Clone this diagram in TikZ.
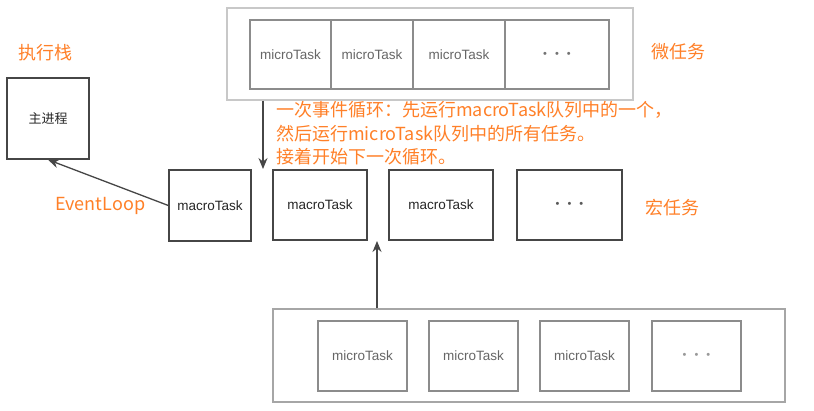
\documentclass[tikz,border=0pt]{standalone}
\usepackage{fontspec}
\setmainfont{Liberation Sans}
\newfontfamily\cjk{Noto Sans CJK SC}
\usetikzlibrary{arrows.meta}
\definecolor{orng}{RGB}{255,128,40}
\definecolor{lgray}{RGB}{200,200,200}
\definecolor{mgray}{RGB}{140,140,140}
\definecolor{dgray}{RGB}{70,70,70}
\tikzset{
  outerbox/.style={draw=lgray, line width=1.2pt, inner sep=0pt},
  microbox/.style={draw=mgray, line width=1.1pt, inner sep=0pt, minimum height=69pt, text=black!60, font=\fontsize{13.5}{15}\selectfont},
  macrobox/.style={draw=dgray, line width=1.4pt, inner sep=0pt, minimum height=70pt, text=black!85, font=\fontsize{13.5}{15}\selectfont},
  note/.style={text=orng, font=\cjk\fontsize{18}{22}\selectfont, inner sep=0pt, anchor=base west},
  arr/.style={draw=dgray, line width=1.3pt, -{Stealth[length=11pt,width=9pt]}},
  dots/.style={font=\fontsize{11}{14}\selectfont}
}
\newcommand{\threedots}{\textbullet\hspace{8pt}\textbullet\hspace{8pt}\textbullet}
\begin{document}
\begin{tikzpicture}[x=1pt,y=-1pt]
\useasboundingbox (0,0) rectangle (814,411);
\fill[white] (0,0) rectangle (814,411);
% top micro queue
\node[outerbox, minimum width=406pt, minimum height=92pt] (topq) at (430,54) {};
\node[microbox, minimum width=81pt] (t1) at (290.5,54.5) {microTask};
\node[microbox, minimum width=82pt] (t2) at (372,54.5) {microTask};
\node[microbox, minimum width=92pt] (t3) at (459,54.5) {microTask};
\node[microbox, minimum width=104pt, text=black!55, dots] (t4) at (557,54.5) {\threedots};
% main
\node[macrobox, minimum width=82pt, minimum height=81pt, font=\cjk\fontsize{13}{15}\selectfont] (main) at (48,118.5) {主进程};
% macro row
\node[macrobox, minimum width=82pt, minimum height=71pt] (m1) at (210,205.5) {macroTask};
\node[macrobox, minimum width=94pt] (m2) at (320,205) {macroTask};
\node[macrobox, minimum width=104pt] (m3) at (441,205) {macroTask};
\node[macrobox, minimum width=105pt, text=black!65, dots] (m4) at (569.5,205) {\threedots};
% bottom micro queue
\node[outerbox, draw=black!35, minimum width=512pt, minimum height=93pt] (botq) at (529,355.5) {};
\node[microbox, minimum width=89pt, minimum height=70pt] (b1) at (362.5,356) {microTask};
\node[microbox, minimum width=89pt, minimum height=70pt] (b2) at (473.5,356) {microTask};
\node[microbox, minimum width=89pt, minimum height=70pt] (b3) at (584.5,356) {microTask};
\node[microbox, minimum width=89pt, minimum height=70pt, text=black!40, dots] (b4) at (696.5,356) {\threedots};
% labels
\node[note] (lstack) at (18,60) {执行栈};
\node[note] (lmicro) at (651,59) {微任务};
\node[note] (lmacro) at (645,215) {宏任务};
\node[note] (lloop) at (55,211) {EventLoop};
\node[note] (n1) at (276,117) {一次事件循环：先运行macroTask队列中的一个，};
\node[note] (n2) at (276,140.5) {然后运行microTask队列中的所有任务。};
\node[note] (n3) at (276,164) {接着开始下一次循环。};
% arrows
\coordinate (d1) at (263,169);
\coordinate (u1) at (377,241);
\draw[arr] (m1.west) -- (main.south);
\draw[arr] (topq.south -| d1) -- (d1);
\draw[arr] (botq.north -| u1) -- (u1);
\end{tikzpicture}
\end{document}
